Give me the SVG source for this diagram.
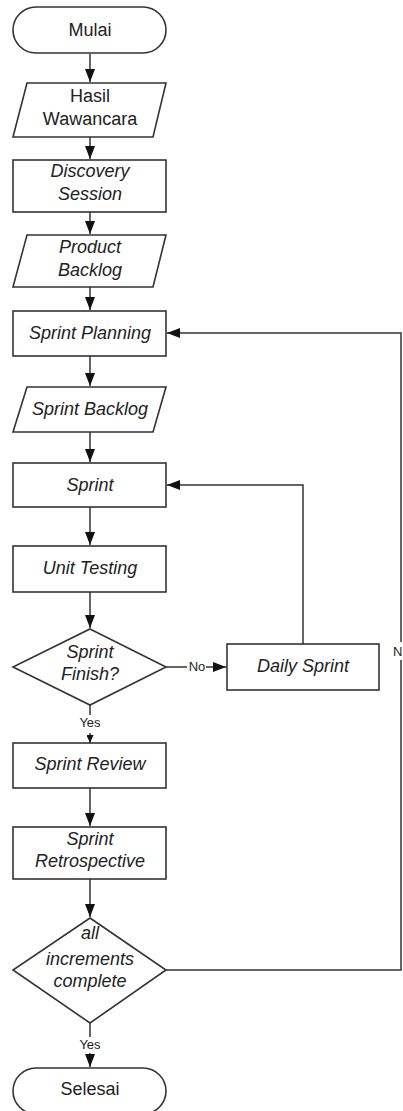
<svg xmlns="http://www.w3.org/2000/svg" width="403" height="1111" viewBox="0 0 403 1111">
<style>
.n{fill:#fff;stroke:#333;stroke-width:1.6}
.t{font-family:"Liberation Sans",Arial,sans-serif;font-size:18px;fill:#222;text-anchor:middle}
.i{font-style:italic}
.c{fill:none;stroke:#333;stroke-width:1.5}
.l{font-family:"Liberation Sans",Arial,sans-serif;font-size:13px;fill:#222;text-anchor:middle}
</style>
<defs>
<marker id="a" viewBox="0 0 13 10" refX="13" refY="5" markerWidth="13" markerHeight="10" markerUnits="userSpaceOnUse" orient="auto"><path d="M0,0 L13,5 L0,10 z" fill="#111"/></marker>
<marker id="s" viewBox="0 0 8 7" refX="8" refY="3.5" markerWidth="8" markerHeight="7" markerUnits="userSpaceOnUse" orient="auto"><path d="M0,0 L8,3.5 L0,7 z" fill="#111"/></marker>
</defs>
<rect width="403" height="1111" fill="#fff"/>
<g id="connectors">
<path class="c" d="M90,54 V82" marker-end="url(#a)"/>
<path class="c" d="M90,137 V159" marker-end="url(#a)"/>
<path class="c" d="M90,212 V234" marker-end="url(#a)"/>
<path class="c" d="M90,287 V310" marker-end="url(#a)"/>
<path class="c" d="M90,356 V386" marker-end="url(#a)"/>
<path class="c" d="M90,432 V462" marker-end="url(#a)"/>
<path class="c" d="M90,507 V545" marker-end="url(#a)"/>
<path class="c" d="M90,592 V628" marker-end="url(#a)"/>
<path class="c" d="M166,667 H187"/>
<text class="l" x="197" y="671">No</text>
<path class="c" d="M206,667 H226" marker-end="url(#a)"/>
<path class="c" d="M303,644 V485 H167" marker-end="url(#a)"/>
<path class="c" d="M90,705 V715"/>
<text class="l" x="90" y="727">Yes</text>
<path class="c" d="M90,733 V743" marker-end="url(#s)"/>
<path class="c" d="M90,788 V826" marker-end="url(#a)"/>
<path class="c" d="M90,879 V917" marker-end="url(#a)"/>
<path class="c" d="M166,970 H401 V660"/>
<text class="l" x="393" y="656" style="text-anchor:start">N</text>
<path class="c" d="M401,642 V333 H167" marker-end="url(#a)"/>
<path class="c" d="M90,1023 V1037"/>
<text class="l" x="90" y="1049">Yes</text>
<path class="c" d="M90,1053 V1067" marker-end="url(#a)"/>
</g>
<g id="mulai"><rect class="n" x="13" y="7" width="153" height="46" rx="23"/><text class="t" x="90" y="36">Mulai</text></g>
<g id="hasil-wawancara"><path class="n" d="M27,83 H166 L153,137 H13 z"/><text class="t" x="90" y="102">Hasil</text><text class="t" x="90" y="125">Wawancara</text></g>
<g id="discovery-session"><rect class="n" x="13" y="160" width="153" height="52"/><text class="t i" x="90" y="177">Discovery</text><text class="t i" x="90" y="200">Session</text></g>
<g id="product-backlog"><path class="n" d="M27,235 H166 L153,287 H13 z"/><text class="t i" x="90" y="253">Product</text><text class="t i" x="90" y="276">Backlog</text></g>
<g id="sprint-planning"><rect class="n" x="13" y="311" width="153" height="45"/><text class="t i" x="90" y="339">Sprint Planning</text></g>
<g id="sprint-backlog"><path class="n" d="M27,387 H166 L153,432 H13 z"/><text class="t i" x="90" y="415">Sprint Backlog</text></g>
<g id="sprint"><rect class="n" x="13" y="463" width="153" height="44"/><text class="t i" x="90" y="491">Sprint</text></g>
<g id="unit-testing"><rect class="n" x="13" y="546" width="153" height="46"/><text class="t i" x="90" y="574">Unit Testing</text></g>
<g id="sprint-finish"><path class="n" d="M90,629 L166,667 L90,705 L13,667 z"/><text class="t i" x="90" y="658">Sprint</text><text class="t i" x="90" y="680">Finish?</text></g>
<g id="daily-sprint"><rect class="n" x="227" y="644" width="152" height="46"/><text class="t i" x="303" y="672">Daily Sprint</text></g>
<g id="sprint-review"><rect class="n" x="13" y="743" width="153" height="45"/><text class="t i" x="90" y="770">Sprint Review</text></g>
<g id="sprint-retrospective"><rect class="n" x="13" y="827" width="153" height="52"/><text class="t i" x="90" y="845">Sprint</text><text class="t i" x="90" y="867">Retrospective</text></g>
<g id="all-increments"><path class="n" d="M90,918 L166,970 L90,1023 L13,970 z"/><text class="t i" x="90" y="939">all</text><text class="t i" x="90" y="965">increments</text><text class="t i" x="90" y="987">complete</text></g>
<g id="selesai"><rect class="n" x="13" y="1068" width="153" height="46" rx="23"/><text class="t" x="90" y="1095">Selesai</text></g>
</svg>
